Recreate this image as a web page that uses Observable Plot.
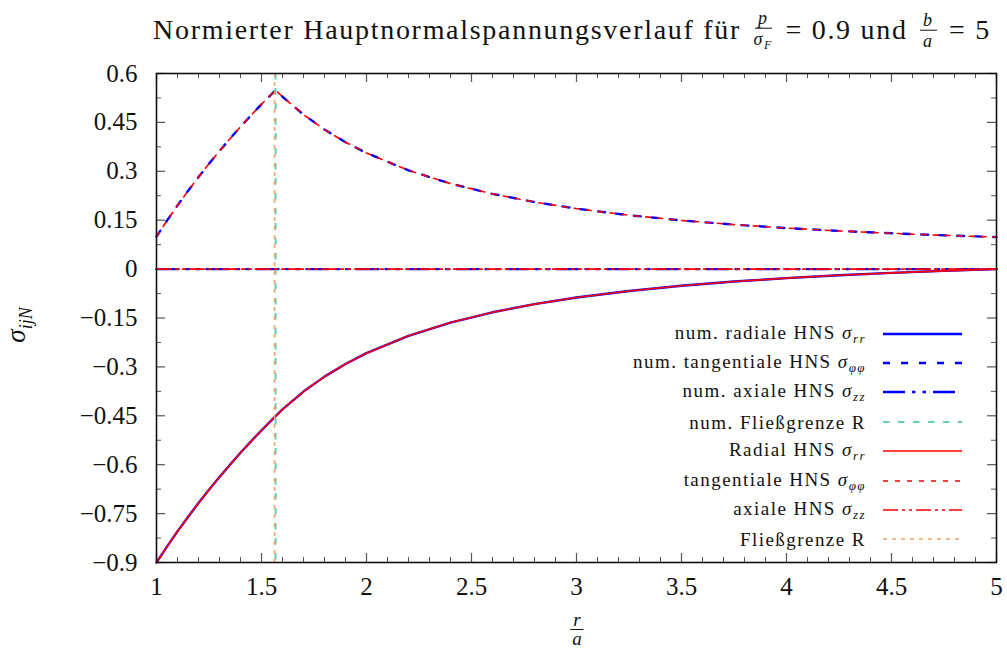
<!DOCTYPE html>
<html>
<head>
<meta charset="utf-8">
<script src="https://cdn.jsdelivr.net/npm/d3@7"></script>
<script src="https://cdn.jsdelivr.net/npm/@observablehq/plot@0.6"></script>
<style>
  html, body { margin: 0; padding: 0; background: #fff; font-family: "Liberation Serif", serif; }
  #wrap { position: relative; width: 1007px; height: 653px; font-family: "Liberation Serif", serif; color: #111; overflow: hidden; }
  #title { position: absolute; top: 0; left: 0; width: 1007px; height: 60px; }
  #title .t { position: absolute; left: 153px; top: 30px; transform: translateY(-50%); font-size: 28px; white-space: nowrap; display: flex; align-items: center; }
  .frac { display: inline-flex; flex-direction: column; align-items: center; line-height: 1.0; margin: 0 3px; }
  .frac .num { padding: 0 3px 1px 3px; border-bottom: 1.2px solid #111; font-style: italic; }
  .frac .den { padding-top: 1px; font-style: italic; }
  i { font-style: italic; }
  #chart { position: absolute; top: 60px; left: 0; }
  #legend { position: absolute; left: 0; top: 0; width: 1007px; height: 653px; }
  .lrow { position: absolute; right: 141px; font-size: 19px; white-space: nowrap; transform: translateY(-50%); line-height: 1; }
  .lsamp { position: absolute; left: 883px; width: 80px; height: 6px; transform: translateY(-50%); }
  #ylab { position: absolute; left: 19px; top: 325px; transform: translate(-50%, -50%) rotate(-90deg); font-size: 27px; white-space: nowrap; }
  #xlab { position: absolute; left: 577px; top: 609px; transform: translateX(-50%); font-size: 19px; }
  #xlab .frac { line-height: 0.85; }
</style>
</head>
<body>
<div id="wrap">
  <div id="title"><div class="t"><span id="tw">Normierter Hauptnormalspannungsverlauf für</span>&nbsp;<span class="frac" style="font-size:18px"><span class="num">p</span><span class="den">σ<sub style="font-size:12px">F</sub></span></span>&nbsp;= 0.9 und&nbsp;<span class="frac" style="font-size:18px"><span class="num">b</span><span class="den">a</span></span>&nbsp;= 5</div></div>
  <div id="chart"></div>
  <div id="legend"></div>
  <div id="ylab"><i>σ</i><sub style="font-size:18px"><i>ijN</i></sub></div>
  <div id="xlab"><span class="frac"><span class="num">r</span><span class="den">a</span></span></div>
</div>
<script>
// ---- data ----
const rValues = [1, 1.05, 1.1, 1.15, 1.2, 1.25, 1.3, 1.35, 1.4, 1.45, 1.5, 1.567,
  1.6, 1.7, 1.8, 1.9, 2.0, 2.2, 2.4, 2.6, 2.8, 3.0, 3.25, 3.5, 3.75, 4.0, 4.25, 4.5, 4.75, 5.0];
const sigmaRR = [-0.9, -0.8512, -0.8047, -0.7602, -0.7177, -0.6769, -0.6376, -0.5999, -0.5635, -0.5284, -0.4945, -0.4508,
  -0.4305, -0.3757, -0.3298, -0.2910, -0.2578, -0.2046, -0.1640, -0.1325, -0.1075, -0.0873, -0.0671, -0.0511, -0.0382, -0.0276, -0.0189, -0.0115, -0.0053, 0];
const sigmaPP = [0.1, 0.1488, 0.1953, 0.2398, 0.2823, 0.3231, 0.3624, 0.4001, 0.4365, 0.4716, 0.5055, 0.5492,
  0.5287, 0.4739, 0.4280, 0.3892, 0.3561, 0.3028, 0.2623, 0.2307, 0.2057, 0.1855, 0.1653, 0.1493, 0.1364, 0.1258, 0.1171, 0.1098, 0.1035, 0.0982];
const sigmaZZ = [0, 0, 0, 0, 0, 0, 0, 0, 0, 0, 0, 0, 0, 0, 0, 0, 0, 0, 0, 0, 0, 0, 0, 0, 0, 0, 0, 0, 0, 0];
const yieldRadius = [1.567];
const xMajorTicks = [1, 1.5, 2, 2.5, 3, 3.5, 4, 4.5, 5];
const xMinorTicks = [1.1,1.2,1.3,1.4,1.6,1.7,1.8,1.9,2.1,2.2,2.3,2.4,2.6,2.7,2.8,2.9,3.1,3.2,3.3,3.4,3.6,3.7,3.8,3.9,4.1,4.2,4.3,4.4,4.6,4.7,4.8,4.9];
const yMajorTicks = [-0.9, -0.75, -0.6, -0.45, -0.3, -0.15, 0, 0.15, 0.3, 0.45, 0.6];
const yMinorTicks = [-0.825, -0.675, -0.525, -0.375, -0.225, -0.075, 0.075, 0.225, 0.375, 0.525];
const legendLabels = [
  "num. radiale HNS <i>σ<sub>rr</sub></i>",
  "num. tangentiale HNS <i>σ<sub>φφ</sub></i>",
  "num. axiale HNS <i>σ<sub>zz</sub></i>",
  "num. Fließgrenze R",
  "Radial HNS <i>σ<sub>rr</sub></i>",
  "tangentiale HNS <i>σ<sub>φφ</sub></i>",
  "axiale HNS <i>σ<sub>zz</sub></i>",
  "Fließgrenze R"
];

// ---- styles ----
const BLUE = "#0000ff", RED = "#ff0000", TEAL = "#66cdaa", ORANGE = "#f4a460";
const styles = [
  {stroke: BLUE, strokeWidth: 2.4, dash: null},
  {stroke: BLUE, strokeWidth: 2.4, dash: "7,11"},
  {stroke: BLUE, strokeWidth: 2.4, dash: "22,7,3.5,7,3.5,7"},
  {stroke: TEAL, strokeWidth: 2, dash: "6.5,8.5"},
  {stroke: RED, strokeWidth: 1.6, dash: null},
  {stroke: RED, strokeWidth: 1.6, dash: "5,7"},
  {stroke: RED, strokeWidth: 1.6, dash: "15,4,3,4,3,4"},
  {stroke: ORANGE, strokeWidth: 1.6, dash: "4,5"}
];

const FONT = '"Liberation Serif", serif';
const W = 1007, H = 593, mL = 156, mR = 11, mT = 13, mB = 91;
const innerW = W - mL - mR, innerH = H - mT - mB;
const rows = rValues.map((r, i) => ({r, rr: sigmaRR[i], pp: sigmaPP[i], zz: sigmaZZ[i]}));
const fmtY = d => (d < 0 ? "\u2212" : "") + String(Math.abs(Math.round(d * 100) / 100));

function line(key, s) {
  return Plot.line(rows, {x: "r", y: key, stroke: s.stroke, strokeWidth: s.strokeWidth, strokeDasharray: s.dash ?? undefined});
}

const TICK = "#555";
const chart = Plot.plot({
  width: W, height: H,
  marginLeft: mL, marginRight: mR, marginTop: mT, marginBottom: mB,
  style: {fontFamily: FONT, fontSize: "25px", color: "#111", background: "white"},
  x: {domain: [1, 5]},
  y: {domain: [-0.9, 0.6]},
  marks: [
    Plot.tickX(xMajorTicks, {x: d => d, insetTop: innerH - 9, stroke: TICK, strokeWidth: 1.2}),
    Plot.tickX(xMajorTicks, {x: d => d, insetBottom: innerH - 9, stroke: TICK, strokeWidth: 1.2}),
    Plot.tickX(xMinorTicks, {x: d => d, insetTop: innerH - 5, stroke: TICK, strokeWidth: 1}),
    Plot.tickX(xMinorTicks, {x: d => d, insetBottom: innerH - 5, stroke: TICK, strokeWidth: 1}),
    Plot.tickY(yMajorTicks, {y: d => d, insetRight: innerW - 9, stroke: TICK, strokeWidth: 1.2}),
    Plot.tickY(yMajorTicks, {y: d => d, insetLeft: innerW - 9, stroke: TICK, strokeWidth: 1.2}),
    Plot.tickY(yMinorTicks, {y: d => d, insetRight: innerW - 5, stroke: TICK, strokeWidth: 1}),
    Plot.tickY(yMinorTicks, {y: d => d, insetLeft: innerW - 5, stroke: TICK, strokeWidth: 1}),
    Plot.axisX({ticks: xMajorTicks, tickSize: 0, tickPadding: 15, fontSize: 25, fontFamily: FONT, label: null, tickFormat: d => String(d)}),
    Plot.axisY({ticks: yMajorTicks, tickSize: 0, tickPadding: 19, fontSize: 25, fontFamily: FONT, label: null, tickFormat: fmtY}),
    // numerical (blue)
    line("rr", styles[0]),
    line("pp", styles[1]),
    line("zz", styles[2]),
    Plot.ruleX(yieldRadius, {stroke: TEAL, strokeWidth: 2, strokeDasharray: styles[3].dash}),
    // analytical (red)
    line("rr", styles[4]),
    line("pp", styles[5]),
    line("zz", styles[6]),
    Plot.ruleX(yieldRadius, {stroke: ORANGE, strokeWidth: 1.6, strokeDasharray: styles[7].dash, dx: -1}),
    Plot.frame({stroke: "#111", strokeWidth: 1.6})
  ]
});
document.getElementById("chart").appendChild(chart);

// legend overlay
const leg = document.getElementById("legend");
const rowY0 = 333.5, rowDY = 29.4;
const rowEls = [];
legendLabels.forEach((lab, i) => {
  const y = rowY0 + i * rowDY;
  const t = document.createElement("div");
  t.className = "lrow";
  t.style.top = y + "px";
  t.innerHTML = lab.replace(/<sub>/g, '<sub style="font-size:13px">');
  leg.appendChild(t);
  rowEls.push(t);
  const s = styles[i];
  const svg = document.createElementNS("http://www.w3.org/2000/svg", "svg");
  svg.setAttribute("class", "lsamp");
  svg.setAttribute("width", 80); svg.setAttribute("height", 6);
  svg.style.top = y + "px";
  const l = document.createElementNS("http://www.w3.org/2000/svg", "line");
  l.setAttribute("x1", 0); l.setAttribute("x2", 79); l.setAttribute("y1", 3); l.setAttribute("y2", 3);
  l.setAttribute("stroke", s.stroke); l.setAttribute("stroke-width", s.strokeWidth);
  if (s.dash) l.setAttribute("stroke-dasharray", s.dash);
  svg.appendChild(l);
  leg.appendChild(svg);
});
// widen legend letter spacing so the longest label spans the reference width (x 633 -> 866)
{
  const ref = rowEls[1];
  const w = ref.getBoundingClientRect().width;
  const n = ref.textContent.length;
  const ls = Math.max(0, (233 - w) / n);
  rowEls.forEach(el => el.style.letterSpacing = ls.toFixed(2) + "px");
}

// fit title: words span x 153 -> 745, whole title to about x 996
{
  const tt = document.querySelector("#title .t");
  const words = document.getElementById("tw");
  const ww = words.getBoundingClientRect().width;
  const n = words.textContent.length;
  const ls = Math.max(0, (588 - ww) / n);
  tt.style.letterSpacing = ls.toFixed(2) + "px";
  const tw = tt.getBoundingClientRect().width;
  const extra = 838 - tw;
  if (Math.abs(extra) > 2) {
    tt.querySelectorAll(".frac").forEach(f => { f.style.marginLeft = Math.max(0, 3 + extra / 4) + "px"; f.style.marginRight = Math.max(0, 3 + extra / 4) + "px"; });
  }
}
</script>
</body>
</html>
